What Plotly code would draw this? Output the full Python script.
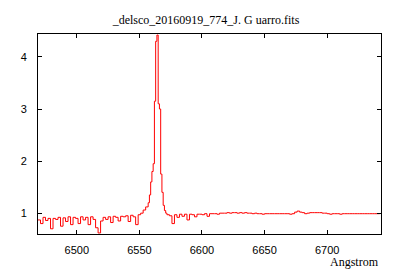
import plotly.graph_objects as go

# Wavelengths (Angstrom) and normalized flux
wl_blue = [6469, 6471, 6473, 6475, 6477, 6479, 6481, 6483, 6485, 6487, 6489, 6491,
           6493, 6495, 6497, 6499, 6501, 6503, 6505, 6507, 6509, 6511, 6513, 6515,
           6517, 6519, 6521, 6523, 6525, 6527, 6529, 6531, 6533, 6535, 6537, 6539,
           6541, 6543, 6545, 6547, 6549, 6551, 6553, 6555]
flux_blue = [0.87, 0.80, 0.92, 0.86, 0.90, 0.70, 0.90, 0.88, 0.92, 0.75, 0.91, 0.84,
             0.93, 0.78, 0.92, 0.90, 0.80, 0.93, 0.87, 0.92, 0.78, 0.93, 0.88, 0.72,
             0.62, 0.85, 0.92, 0.88, 0.93, 0.82, 0.94, 0.92, 0.85, 0.94, 0.93, 0.95,
             0.84, 0.96, 0.93, 0.78, 0.97, 1.00, 1.06, 1.12]

wl_line = [6556, 6557, 6558, 6559, 6560, 6561, 6562, 6563, 6564, 6565, 6566, 6567,
           6568, 6569, 6570, 6571, 6572]
flux_line = [1.12, 1.20, 1.35, 1.60, 1.80, 1.95, 3.15, 4.30, 4.42, 3.10, 3.00, 1.75,
             1.40, 1.15, 1.05, 1.00, 0.97]

wl_red = [6574, 6576, 6578, 6580, 6582, 6584, 6586, 6588, 6590, 6592, 6594, 6596,
          6598, 6600, 6602, 6604, 6606, 6608, 6610, 6612, 6614, 6616, 6618, 6620,
          6622, 6624, 6626, 6628, 6630, 6632, 6634, 6636, 6638, 6640, 6642, 6644,
          6646, 6648, 6650, 6652, 6654, 6656, 6658, 6660, 6662, 6664, 6666, 6668,
          6670, 6672, 6674, 6676, 6678, 6680, 6682, 6684, 6686, 6688, 6690, 6692,
          6694, 6696, 6698, 6700, 6702, 6704, 6706, 6708, 6710, 6712, 6714, 6716,
          6718, 6720, 6722, 6724, 6726, 6728, 6730, 6732, 6734, 6736, 6738, 6740,
          6742]
flux_red = [0.95, 0.80, 0.97, 0.92, 0.98, 0.94, 0.98, 0.87, 0.98, 0.97, 0.93, 0.98,
            0.98, 0.97, 0.99, 0.94, 0.99, 0.99, 0.99, 0.98, 1.00, 1.00, 1.00, 1.01,
            1.00, 1.01, 1.01, 1.00, 1.01, 1.00, 1.01, 1.00, 1.00, 0.99, 1.00, 0.99,
            0.99, 0.98, 0.99, 0.99, 0.99, 0.99, 0.99, 0.99, 0.99, 0.99, 0.99, 0.99,
            0.98, 0.99, 1.02, 1.04, 1.02, 1.01, 0.99, 1.00, 1.01, 1.01, 1.01, 1.01,
            1.01, 1.00, 1.00, 0.99, 0.98, 0.99, 0.99, 0.99, 0.98, 0.99, 0.99, 0.99,
            0.99, 0.99, 0.99, 0.99, 0.99, 0.99, 0.99, 0.99, 0.99, 0.99, 0.99, 0.99,
            0.99]

wavelength = wl_blue + wl_line + wl_red
flux = flux_blue + flux_line + flux_red

x_ticks = [6500, 6550, 6600, 6650, 6700]
y_ticks = [1, 2, 3, 4]
title_text = "_delsco_20160919_774_J. G uarro.fits"
x_label = "Angstrom"

fig = go.Figure()
fig.add_trace(go.Scatter(x=wavelength, y=flux, mode="lines",
                         line=dict(color="#ff0000", width=1), line_shape="hv",
                         hoverinfo="skip"))

axis_common = dict(showgrid=False, zeroline=False, showline=True, linecolor="black",
                   linewidth=1, mirror="allticks", ticks="inside", ticklen=4,
                   tickcolor="black", tickfont=dict(family="Liberation Sans", size=11, color="black"))

fig.update_xaxes(range=[6469, 6743], tickvals=x_ticks, ticklabelstandoff=6, **axis_common)
fig.update_yaxes(range=[0.6, 4.44], tickvals=y_ticks, ticklabelstandoff=8, **axis_common)

fig.update_layout(
    width=400, height=280,
    margin=dict(l=38, r=19, t=34, b=46),
    paper_bgcolor="white", plot_bgcolor="white",
    showlegend=False,
    title=dict(text=title_text, x=0.515, xanchor="center", y=1 - 20 / 280, yanchor="middle",
               font=dict(family="Liberation Serif", size=12, color="black")),
    annotations=[dict(text=x_label, xref="paper", yref="paper", x=1.0, y=-0.14,
                      xanchor="right", yanchor="middle", showarrow=False,
                      font=dict(family="Liberation Serif", size=12, color="black"))],
)

fig.write_html("out.html")
